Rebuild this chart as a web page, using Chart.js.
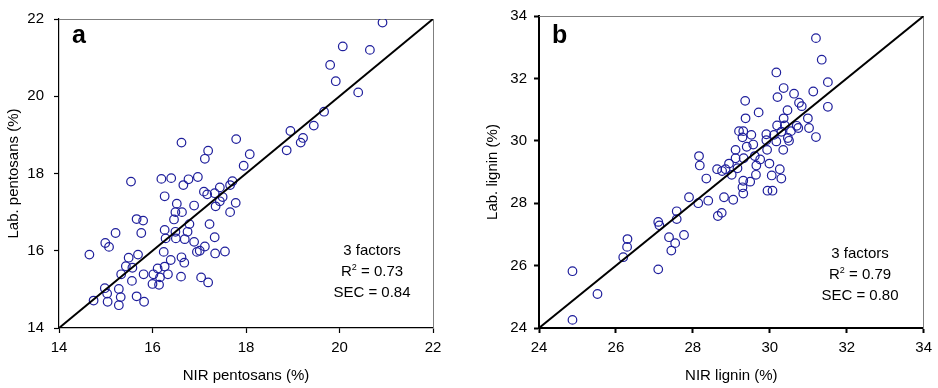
<!DOCTYPE html>
<html>
<head>
<meta charset="utf-8">
<script src="https://cdn.jsdelivr.net/npm/chart.js@4/dist/chart.umd.min.js"></script>
<style>
  html, body { margin: 0; padding: 0; background: #fff; }
  #wrap { position: relative; width: 938px; height: 388px; overflow: hidden; font-family: "Liberation Sans", Arial, sans-serif; }
  .panel { position: absolute; top: 0; }
  .tag { position: absolute; font-weight: bold; font-size: 25px; line-height: 25px; color: #000; }
  .stats { position: absolute; font-size: 15px; line-height: 21px; color: #000; text-align: center; width: 160px; }
  sup { font-size: 9px; vertical-align: 6px; line-height: 0; }
</style>
</head>
<body>
<div id="wrap">
  <canvas id="c1" class="panel" width="470" height="388" style="left:0;"></canvas>
  <canvas id="c2" class="panel" width="468" height="388" style="left:470px;"></canvas>
  <div class="tag" style="left:72px; top:22px;">a</div>
  <div class="tag" style="left:552px; top:22px;">b</div>
  <div class="stats" style="left:292px; top:239px;">3 factors<br>R<sup>2</sup> = 0.73<br>SEC = 0.84</div>
  <div class="stats" style="left:780px; top:242px;">3 factors<br>R<sup>2</sup> = 0.79<br>SEC = 0.80</div>
</div>
<script>
// ---- Panel a: pentosans ----
const pentNIR = [20.92,20.07,20.65,19.8,19.92,20.4,19.67,19.45,18.95,19.22,19.17,18.87,18.08,17.79,17.95,16.62,17.19,17.12,16.97,16.77,16.4,16.19,15.54,16.66,17.1,17.17,17.33,17.44,17.71,17.66,17.5,17.44,17.35,17.78,17.66,16.26,16.52,16.89,16.49,16.63,16.46,15.66,15.8,15.76,15.21,16.79,17.22,16.75,16.26,16.49,16.28,16.5,16.69,16.89,17.33,17.12,14.99,15.07,14.65,15.69,15.49,15.43,15.57,15.56,15.33,16.24,16.39,16.26,16.11,16.62,16.68,16.95,17.01,17.34,17.55,15.81,16.02,16.33,16.16,16.0,16.14,16.61,17.04,17.19,14.98,15.28,15.03,15.04,15.32,15.28,14.74,15.66,15.82];
const pentLab = [21.91,21.29,21.2,20.81,20.39,20.1,19.6,19.24,19.1,18.92,18.8,18.6,18.5,18.89,18.2,18.8,18.59,18.38,17.91,17.85,17.88,17.86,17.79,17.7,17.53,17.46,17.49,17.64,17.8,17.7,17.39,17.28,17.15,17.24,17.0,17.41,17.22,17.17,17.0,17.0,16.81,16.82,16.78,16.46,16.46,16.69,16.69,16.49,16.54,16.49,16.32,16.32,16.3,16.23,16.35,16.11,16.2,16.1,15.9,15.9,15.82,15.6,15.56,15.22,15.39,15.97,15.76,15.59,15.54,15.83,15.69,15.97,16.0,15.93,15.98,15.39,15.39,15.39,15.31,15.14,15.12,15.33,15.31,15.18,15.03,15.01,14.89,14.68,14.8,14.59,14.71,14.82,14.68];
const pentTicks = [14, 16, 18, 20, 22];

// ---- Panel b: lignin ----
const ligNIR = [31.2,31.35,30.17,31.51,30.36,31.13,30.2,30.63,30.76,30.83,31.51,29.36,29.71,30.46,29.37,30.36,30.99,30.19,30.39,30.7,30.74,31.02,29.2,29.31,30.55,30.3,29.91,29.52,30.11,29.29,30.47,31.2,29.91,30.5,30.17,29.57,29.4,29.11,29.93,30.35,29.11,29.32,29.61,29.75,29.99,29.65,28.16,28.18,28.63,28.76,28.85,28.94,29.16,30.26,29.01,30.05,29.64,28.35,29.31,30.3,29.49,29.29,29.31,29.94,30.07,28.81,29.05,27.9,28.14,28.4,27.58,27.58,28.65,28.75,27.1,27.13,27.77,27.38,27.54,27.44,26.3,26.29,26.19,27.1,24.87,25.52,24.87];
const ligLab = [33.29,32.6,32.19,31.88,31.69,31.58,31.4,31.51,31.22,31.11,31.09,31.28,30.91,30.98,30.72,30.72,30.72,30.49,30.49,30.48,30.41,30.41,30.31,30.31,30.31,30.29,30.21,30.19,30.19,30.11,30.09,30.12,30.02,30.0,29.98,29.88,29.81,29.71,29.71,29.71,29.44,29.44,29.51,29.4,29.27,29.21,29.51,29.21,29.09,29.03,29.09,29.27,29.12,29.09,28.91,28.89,28.91,28.79,28.72,28.79,28.69,28.51,28.31,28.4,28.4,28.19,28.11,28.19,28.0,28.08,27.74,27.49,27.59,27.69,27.4,27.29,26.98,26.91,26.72,26.48,26.85,26.6,26.27,25.88,25.82,25.09,24.26];
const ligTicks = [24, 26, 28, 30, 32, 34];

const markerColor = '#1f1f9c';
const FONT = '"Liberation Sans", Arial, sans-serif';

function pts(xs, ys) { return xs.map((x, i) => ({ x: x, y: ys[i] })); }

function makeChart(id, xs, ys, ticks, xTitle, yTitle, cfg) {
  const lo = ticks[0], hi = ticks[ticks.length - 1];
  const tickFont = { family: FONT, size: 15 };
  const titleFont = { family: FONT, size: 15 };
  return new Chart(document.getElementById(id), {
    type: 'scatter',
    data: {
      datasets: [
        {
          data: pts(xs, ys),
          pointStyle: 'circle',
          pointRadius: 4.3,
          pointBorderWidth: 1.2,
          pointBorderColor: markerColor,
          pointBackgroundColor: 'rgba(0,0,0,0)',
          showLine: false,
          order: 2
        },
        {
          data: [{ x: lo, y: lo }, { x: hi, y: hi }],
          showLine: true,
          borderColor: '#000',
          borderWidth: 2,
          pointRadius: 0,
          order: 1
        }
      ]
    },
    options: {
      responsive: false,
      animation: false,
      devicePixelRatio: 1,
      layout: { padding: { left: 0, top: cfg.top, right: cfg.right, bottom: 0 } },
      plugins: { legend: { display: false }, tooltip: { enabled: false } },
      scales: {
        x: {
          type: 'linear', position: 'bottom', min: lo, max: hi,
          afterBuildTicks: (s) => { s.ticks = ticks.map(v => ({ value: v })); },
          ticks: { font: tickFont, color: '#000', padding: 6, maxRotation: 0 },
          grid: { drawOnChartArea: false, drawTicks: true, tickLength: 5, color: '#000', tickWidth: cfg.axisW },
          border: { display: true, color: '#000', width: cfg.axisW },
          title: { display: true, text: xTitle, font: titleFont, color: '#000', padding: { top: 0, bottom: 3 } },
          afterFit: (s) => { s.height = 60; }
        },
        y: {
          type: 'linear', position: 'left', min: lo, max: hi,
          afterBuildTicks: (s) => { s.ticks = ticks.map(v => ({ value: v })); },
          ticks: { font: tickFont, color: '#000', padding: cfg.yPad },
          grid: { drawOnChartArea: false, drawTicks: true, tickLength: 5, color: '#000', tickWidth: cfg.axisW },
          border: { display: true, color: '#000', width: cfg.axisW },
          title: { display: true, text: yTitle, font: titleFont, color: '#000', padding: { top: cfg.yTitlePad, bottom: 0 } },
          afterFit: (s) => { s.width = cfg.left; }
        },
        x2: {
          type: 'linear', position: 'top', min: lo, max: hi,
          ticks: { display: false },
          grid: { display: false },
          border: { display: true, color: '#7f7f7f', width: 1 },
          afterFit: (s) => { s.height = 0; }
        },
        y2: {
          type: 'linear', position: 'right', min: lo, max: hi,
          ticks: { display: false },
          grid: { display: false },
          border: { display: true, color: '#7f7f7f', width: 1 },
          afterFit: (s) => { s.width = 0; }
        }
      }
    }
  });
}

makeChart('c1', pentNIR, pentLab, pentTicks, 'NIR pentosans (%)', 'Lab. pentosans (%)',
  { left: 59, right: 37, top: 12, axisW: 1.2, yPad: 10, yTitlePad: 5 });
makeChart('c2', ligNIR, ligLab, ligTicks, 'NIR lignin (%)', 'Lab. lignin (%)',
  { left: 69, right: 14, top: 11, axisW: 2, yPad: 7, yTitlePad: 14 });
</script>
</body>
</html>
